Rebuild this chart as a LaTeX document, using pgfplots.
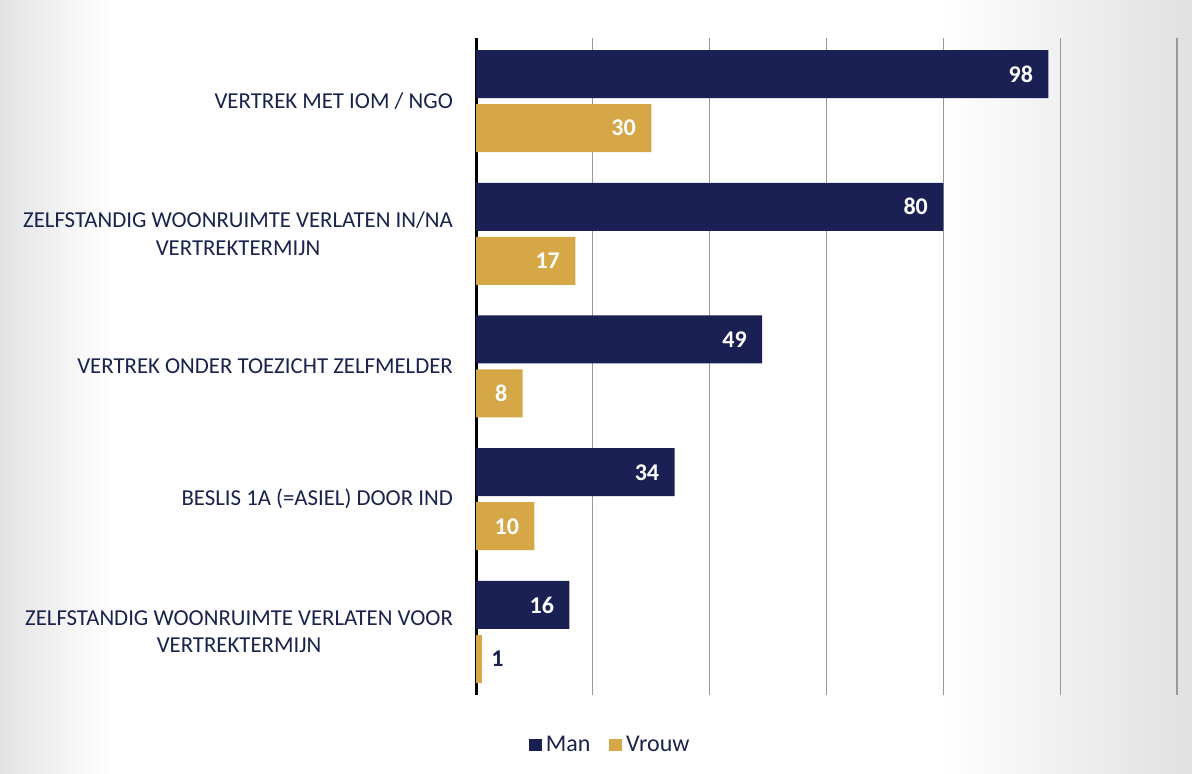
\documentclass[border=0pt]{standalone}
\usepackage{fontspec}
\setmainfont{Carlito}
\usepackage{pgfplots}
\pgfplotsset{compat=1.18}
\definecolor{man}{RGB}{26,31,84}
\definecolor{vrouw}{RGB}{213,167,70}
\definecolor{lbl}{RGB}{25,35,75}
\begin{document}
\begin{tikzpicture}
\fill[white] (0,0) rectangle (596pt,387pt);
\shade[left color=gray!22, right color=white] (0,0) rectangle (55pt,387pt);
\shade[left color=white, right color=gray!24] (470pt,0) rectangle (596pt,387pt);
\useasboundingbox (0,0) rectangle (596pt,387pt);
\begin{axis}[
  at={(238pt,39.5pt)}, anchor=south west,
  scale only axis, width=350.5pt, height=328.5pt,
  xbar, bar width=24pt,
  xmin=0, xmax=120, ymin=-0.475, ymax=4.475,
  xtick={0,20,...,120}, xticklabels={},
  ytick={0,1,2,3,4},
  yticklabels={{ZELFSTANDIG WOONRUIMTE VERLATEN VOOR\\VERTREKTERMIJN},
               {BESLIS 1A (=ASIEL) DOOR IND},
               {VERTREK ONDER TOEZICHT ZELFMELDER},
               {ZELFSTANDIG WOONRUIMTE VERLATEN IN/NA\\VERTREKTERMIJN},
               {VERTREK MET IOM / NGO}},
  yticklabel style={align=center, font=\fontsize{11.4}{13.6}\selectfont, text=lbl, xshift=-8pt},
  major tick length=0pt,
  xmajorgrids, grid style={gray!80, line width=0.6pt},
  axis x line*=bottom, x axis line style={draw=none},
  axis y line*=left, y axis line style={black, line width=1.5pt, -},
  /pgf/number format/assume math mode=true,
  legend style={at={(0.193,0)}, anchor=center, yshift=-25pt, draw=none, fill=none,
     font=\fontsize{12}{14}\selectfont, text=lbl},
  legend columns=2,
  /tikz/every even column/.append style={column sep=7.5pt},
]
\addplot[fill=man, draw=none, bar shift=13.5pt,
  nodes near coords,
  every node near coord/.append style={anchor=east, text=white,
     font=\bfseries\fontsize{12}{14}\selectfont, xshift=-4.2pt},
  legend image code/.code={\fill[man] (0pt,-3.2pt) rectangle (6.4pt,3.2pt);}]
  coordinates {(98,4) (80,3) (49,2) (34,1) (16,0)};
\addplot[fill=vrouw, draw=none, bar shift=-13.5pt,
  nodes near coords,
  every node near coord/.append style={anchor=east, text=white,
     font=\bfseries\fontsize{12}{14}\selectfont, xshift=-4.2pt},
  legend image code/.code={\fill[vrouw] (0pt,-3.2pt) rectangle (6.4pt,3.2pt);}]
  coordinates {(30,4) (17,3) (8,2) (10,1)};
\addplot[fill=vrouw, draw=none, bar shift=-13.5pt, forget plot,
  nodes near coords,
  every node near coord/.append style={anchor=west, text=lbl,
     font=\bfseries\fontsize{12}{14}\selectfont, xshift=1.2pt}]
  coordinates {(1,0)};
\legend{Man, Vrouw}
\end{axis}
\end{tikzpicture}
\end{document}
